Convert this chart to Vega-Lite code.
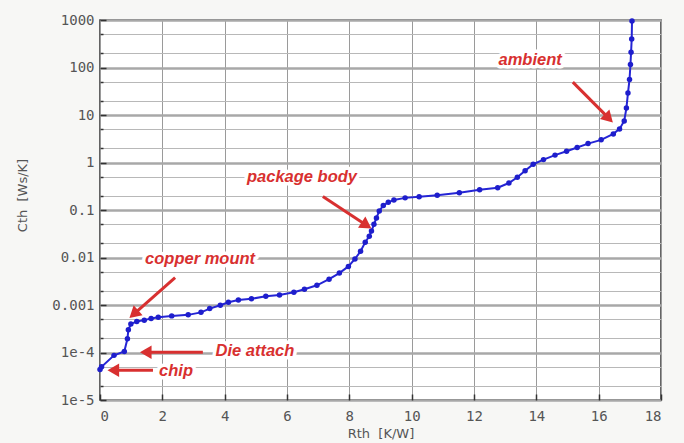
{
  "$schema": "https://vega.github.io/schema/vega-lite/v6.json",
  "width": 561,
  "height": 380,
  "autosize": "none",
  "padding": {"left": 100, "top": 20, "right": 23, "bottom": 43},
  "background": "#f7f7f5",
  "config": {
    "view": {"stroke": "#333333", "strokeWidth": 1.5, "fill": "#ffffff"},
    "axis": {
      "labelFont": "DejaVu Sans Mono",
      "labelFontSize": 14,
      "labelColor": "#555555",
      "titleFont": "DejaVu Sans",
      "titleFontSize": 13,
      "titleFontWeight": "normal",
      "titleColor": "#555555",
      "domain": false
    }
  },
  "datasets": {
    "curve": [
      {"r": 0.0, "c": 4.4e-5}, {"r": 0.05, "c": 5.0e-5}, {"r": 0.45, "c": 8.7e-5}, {"r": 0.78, "c": 1.05e-4},
      {"r": 0.88, "c": 1.95e-4}, {"r": 0.91, "c": 3.0e-4}, {"r": 0.99, "c": 4.0e-4}, {"r": 1.18, "c": 4.5e-4},
      {"r": 1.42, "c": 4.8e-4}, {"r": 1.64, "c": 5.2e-4}, {"r": 1.87, "c": 5.5e-4}, {"r": 2.30, "c": 5.9e-4},
      {"r": 2.83, "c": 6.2e-4}, {"r": 3.24, "c": 7.0e-4}, {"r": 3.52, "c": 8.4e-4}, {"r": 3.86, "c": 9.9e-4},
      {"r": 4.12, "c": 1.14e-3}, {"r": 4.44, "c": 1.27e-3}, {"r": 4.86, "c": 1.35e-3}, {"r": 5.32, "c": 1.52e-3},
      {"r": 5.76, "c": 1.62e-3}, {"r": 6.22, "c": 1.86e-3}, {"r": 6.56, "c": 2.15e-3}, {"r": 6.96, "c": 2.6e-3},
      {"r": 7.35, "c": 3.5e-3}, {"r": 7.68, "c": 4.7e-3}, {"r": 7.97, "c": 6.5e-3}, {"r": 8.18, "c": 9.3e-3},
      {"r": 8.36, "c": 0.0135}, {"r": 8.51, "c": 0.021}, {"r": 8.64, "c": 0.028}, {"r": 8.71, "c": 0.036},
      {"r": 8.79, "c": 0.05}, {"r": 8.87, "c": 0.068}, {"r": 8.96, "c": 0.095}, {"r": 9.09, "c": 0.125},
      {"r": 9.25, "c": 0.145}, {"r": 9.43, "c": 0.163}, {"r": 9.79, "c": 0.18}, {"r": 10.24, "c": 0.19},
      {"r": 10.82, "c": 0.205}, {"r": 11.53, "c": 0.23}, {"r": 12.18, "c": 0.267}, {"r": 12.76, "c": 0.295},
      {"r": 13.12, "c": 0.37}, {"r": 13.39, "c": 0.49}, {"r": 13.64, "c": 0.67}, {"r": 13.90, "c": 0.92},
      {"r": 14.23, "c": 1.15}, {"r": 14.60, "c": 1.43}, {"r": 14.97, "c": 1.73}, {"r": 15.31, "c": 2.07},
      {"r": 15.66, "c": 2.5}, {"r": 16.08, "c": 3.0}, {"r": 16.47, "c": 4.0}, {"r": 16.67, "c": 5.1},
      {"r": 16.82, "c": 7.5}, {"r": 16.89, "c": 14}, {"r": 16.94, "c": 29}, {"r": 16.99, "c": 56},
      {"r": 17.02, "c": 116}, {"r": 17.04, "c": 210}, {"r": 17.06, "c": 400}, {"r": 17.07, "c": 950}
    ],
    "labels": [
      {"r": 13.8, "c": 147, "text": "ambient"},
      {"r": 6.48, "c": 0.507, "text": "package body"},
      {"r": 3.21, "c": 0.00908, "text": "copper mount"},
      {"r": 4.97, "c": 1.05e-4, "text": "Die attach"},
      {"r": 2.44, "c": 4.0e-5, "text": "chip"}
    ],
    "arrows": [
      {"r": 15.17, "c": 49.1, "r2": 16.28, "c2": 9.12, "angle": 135},
      {"r": 7.15, "c": 0.192, "r2": 8.50, "c2": 0.0502, "angle": 123.4},
      {"r": 2.41, "c": 0.00379, "r2": 1.13, "c2": 6.85e-4, "angle": 228.4},
      {"r": 3.30, "c": 1.01e-4, "r2": 1.53, "c2": 1.01e-4, "angle": 270},
      {"r": 1.70, "c": 4.24e-5, "r2": 0.49, "c2": 4.24e-5, "angle": 270}
    ]
  },
  "layer": [
    {
      "data": {"name": "curve"},
      "mark": {"type": "line", "color": "#2525d5", "strokeWidth": 2},
      "encoding": {
        "x": {
          "field": "r", "type": "quantitative",
          "scale": {"domain": [0, 18], "nice": false},
          "axis": {
            "title": "Rth \u00a0[K/W]",
            "values": [0, 2, 4, 6, 8, 10, 12, 14, 16, 18],
            "grid": true, "gridColor": "#9a9a9a", "gridWidth": 1,
            "tickColor": "#333333", "tickSize": -6, "tickWidth": 1.5,
            "labelPadding": 15, "titlePadding": 4
          }
        },
        "y": {
          "field": "c", "type": "quantitative",
          "scale": {"type": "log", "domain": [1e-5, 1000], "nice": false},
          "axis": {
            "title": "Cth \u00a0[Ws/K]",
            "values": [1e-5, 2e-5, 5e-5, 1e-4, 2e-4, 5e-4, 0.001, 0.002, 0.005, 0.01, 0.02, 0.05, 0.1, 0.2, 0.5, 1, 2, 5, 10, 20, 50, 100, 200, 500, 1000],
            "grid": true,
            "gridColor": {"condition": {"test": "abs(log(datum.value)/LN10 - round(log(datum.value)/LN10)) < 0.001", "value": "#a8a8a8"}, "value": "#b8b8b8"},
            "gridWidth": {"condition": {"test": "abs(log(datum.value)/LN10 - round(log(datum.value)/LN10)) < 0.001", "value": 2.5}, "value": 1},
            "tickColor": "#333333",
            "tickSize": {"condition": {"test": "abs(log(datum.value)/LN10 - round(log(datum.value)/LN10)) < 0.001", "value": -6}, "value": -3},
            "tickWidth": 1.5,
            "labelPadding": 12,
            "labelExpr": "abs(log(datum.value)/LN10 - round(log(datum.value)/LN10)) < 0.001 ? (datum.value < 0.0009 ? '1e' + round(log(datum.value)/LN10) : format(datum.value, '~f')) : ''",
            "titlePadding": 22,
            "titleY": 175
          }
        }
      }
    },
    {
      "data": {"name": "curve"},
      "mark": {"type": "point", "filled": true, "color": "#1e1ecc", "size": 30, "opacity": 1},
      "encoding": {
        "x": {"field": "r", "type": "quantitative"},
        "y": {"field": "c", "type": "quantitative"}
      }
    },
    {
      "data": {"name": "labels"},
      "mark": {"type": "text", "font": "Liberation Sans", "fontSize": 16.5, "fontWeight": "bold", "fontStyle": "italic", "stroke": "#ffffff", "strokeWidth": 7, "strokeJoin": "round", "fill": "#ffffff"},
      "encoding": {
        "x": {"field": "r", "type": "quantitative"},
        "y": {"field": "c", "type": "quantitative"},
        "text": {"field": "text"}
      }
    },
    {
      "data": {"name": "labels"},
      "mark": {"type": "text", "font": "Liberation Sans", "fontSize": 16.5, "fontWeight": "bold", "fontStyle": "italic", "color": "#d83030"},
      "encoding": {
        "x": {"field": "r", "type": "quantitative"},
        "y": {"field": "c", "type": "quantitative"},
        "text": {"field": "text"}
      }
    },
    {
      "data": {"name": "arrows"},
      "mark": {"type": "rule", "color": "#d83030", "strokeWidth": 3},
      "encoding": {
        "x": {"field": "r", "type": "quantitative"},
        "y": {"field": "c", "type": "quantitative"},
        "x2": {"field": "r2"},
        "y2": {"field": "c2"}
      }
    },
    {
      "data": {"name": "arrows"},
      "mark": {"type": "point", "shape": "triangle", "filled": true, "color": "#d83030", "size": 180, "opacity": 1},
      "encoding": {
        "x": {"field": "r2", "type": "quantitative"},
        "y": {"field": "c2", "type": "quantitative"},
        "angle": {"field": "angle", "type": "quantitative", "scale": null}
      }
    }
  ]
}
